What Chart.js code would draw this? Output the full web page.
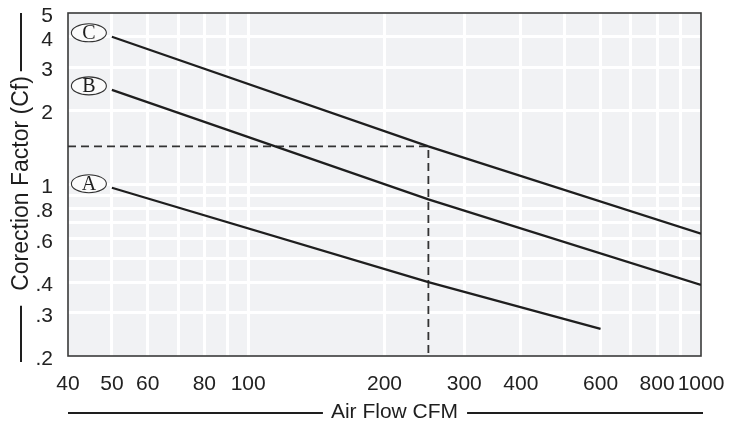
<!DOCTYPE html>
<html>
<head>
<meta charset="utf-8">
<script src="https://cdn.jsdelivr.net/npm/chart.js@4/dist/chart.umd.min.js"></script>
<style>
  html, body { margin: 0; padding: 0; background: #ffffff; }
  #wrap { width: 731px; height: 425px; position: relative; }
</style>
</head>
<body>
<div id="wrap"><canvas id="c"></canvas></div>
<script>
// ---- data ----
const flowA = [50, 250, 600];
const cfA   = [0.97, 0.40, 0.258];
const flowB = [50, 250, 1000];
const cfB   = [2.43, 0.87, 0.39];
const flowC = [50, 250, 1000];
const cfC   = [4.0, 1.43, 0.63];
const guideFlow = [40, 250, 250];
const guideCf   = [1.43, 1.43, 0.2];
const curveNames = ['A', 'B', 'C'];

const xGridValues = [40, 50, 60, 70, 80, 90, 100, 200, 300, 400, 500, 600, 700, 800, 900, 1000];
const xLabelValues = [40, 50, 60, 80, 100, 200, 300, 400, 600, 800, 1000];
const xLabelTexts  = ['40', '50', '60', '80', '100', '200', '300', '400', '600', '800', '1000'];
const yGridValues = [0.2, 0.3, 0.4, 0.5, 0.6, 0.7, 0.8, 0.9, 1, 2, 3, 4, 5];
const yLabelValues = [0.2, 0.3, 0.4, 0.6, 0.8, 1, 2, 3, 4, 5];
const yLabelTexts  = ['.2', '.3', '.4', '.6', '.8', '1', '2', '3', '4', '5'];
const xTitle = 'Air Flow CFM';
const yTitle = 'Corection Factor (Cf)';

const pts = (xs, ys) => xs.map((x, i) => ({ x: x, y: ys[i] }));

Chart.defaults.font.family = "'Liberation Sans', Arial, Helvetica, sans-serif";
Chart.defaults.color = '#222';

const X_MIN = 40, X_MAX = 1000, Y_MIN = 0.2, Y_MAX = 5;
const INK = '#1e1e1e';

const decor = {
  id: 'decor',
  beforeDraw(chart) {
    const { ctx, chartArea: a } = chart;
    ctx.save();
    ctx.fillStyle = '#f1f2f4';
    ctx.fillRect(a.left, a.top, a.right - a.left, a.bottom - a.top);
    ctx.restore();
  },
  beforeDatasetsDraw(chart) {
    const { ctx, chartArea: a } = chart;
    ctx.save();
    ctx.strokeStyle = '#3a3a3a';
    ctx.lineWidth = 1.6;
    ctx.strokeRect(a.left, a.top, a.right - a.left, a.bottom - a.top);
    ctx.restore();
  },
  afterDraw(chart) {
    const { ctx, chartArea: a } = chart;
    ctx.save();
    // circled curve labels, placed just left of each curve's first point
    [0, 1, 2].forEach(i => {
      const p0 = chart.getDatasetMeta(i).data[0];
      const cx = p0.x - 23, cy = p0.y - 4;
      ctx.beginPath();
      ctx.ellipse(cx, cy, 17.5, 9, 0, 0, Math.PI * 2);
      ctx.fillStyle = '#fbfbfb';
      ctx.fill();
      ctx.lineWidth = 1.1;
      ctx.strokeStyle = '#333';
      ctx.stroke();
      ctx.fillStyle = INK;
      ctx.font = "20px 'Liberation Serif', 'Times New Roman', serif";
      ctx.textAlign = 'center';
      ctx.textBaseline = 'middle';
      ctx.fillText(curveNames[i], cx, cy + 1);
    });

    // x axis title with rules
    ctx.font = "21px 'Liberation Sans', Arial, sans-serif";
    ctx.fillStyle = INK;
    ctx.textAlign = 'center';
    ctx.textBaseline = 'alphabetic';
    const xtx = (a.left + a.right) / 2 + 10;
    const xty = 418;
    ctx.fillText(xTitle, xtx, xty);
    const xw = ctx.measureText(xTitle).width;
    ctx.strokeStyle = INK;
    ctx.lineWidth = 2;
    ctx.beginPath();
    ctx.moveTo(a.left, xty - 5);
    ctx.lineTo(xtx - xw / 2 - 8, xty - 5);
    ctx.moveTo(xtx + xw / 2 + 9, xty - 5);
    ctx.lineTo(a.right + 2, xty - 5);
    ctx.stroke();

    // y axis title with rules
    ctx.save();
    ctx.font = "23px 'Liberation Sans', Arial, sans-serif";
    const ytx = 28, yty = (a.top + a.bottom) / 2 - 1;
    ctx.translate(ytx, yty);
    ctx.rotate(-Math.PI / 2);
    ctx.textAlign = 'center';
    ctx.textBaseline = 'alphabetic';
    ctx.fillText(yTitle, 0, 0);
    const yw = ctx.measureText(yTitle).width;
    ctx.restore();
    ctx.beginPath();
    ctx.moveTo(21, a.top);
    ctx.lineTo(21, yty - yw / 2 - 5);
    ctx.moveTo(21, yty + yw / 2 + 15);
    ctx.lineTo(21, a.bottom + 6);
    ctx.stroke();
    ctx.restore();
  }
};

const gridColor = (lo, hi) => (c) => {
  const v = c.tick ? c.tick.value : null;
  return (v === lo || v === hi) ? 'rgba(0,0,0,0)' : '#ffffff';
};
const zeroPad = s => { s.paddingTop = 0; s.paddingBottom = 0; s.paddingLeft = 0; s.paddingRight = 0; };

new Chart(document.getElementById('c'), {
  type: 'scatter',
  data: {
    datasets: [
      { label: 'A', data: pts(flowA, cfA), showLine: true, borderColor: INK, borderWidth: 2.2, pointRadius: 0 },
      { label: 'B', data: pts(flowB, cfB), showLine: true, borderColor: INK, borderWidth: 2.2, pointRadius: 0 },
      { label: 'C', data: pts(flowC, cfC), showLine: true, borderColor: INK, borderWidth: 2.2, pointRadius: 0 },
      { label: 'guide', data: pts(guideFlow, guideCf), showLine: true, borderColor: '#333', borderWidth: 1.8,
        borderDash: [8, 5], pointRadius: 0 }
    ]
  },
  options: {
    responsive: true,
    maintainAspectRatio: false,
    animation: false,
    layout: { padding: { top: 13, right: 30, left: 0, bottom: 0 } },
    plugins: { legend: { display: false }, tooltip: { enabled: false } },
    scales: {
      x: {
        type: 'logarithmic',
        min: X_MIN, max: X_MAX,
        afterBuildTicks: s => { s.ticks = xGridValues.map(v => ({ value: v })); },
        afterFit: s => { s.height = 69; zeroPad(s); },
        ticks: {
          autoSkip: false, maxRotation: 0, minRotation: 0,
          padding: 16,
          font: { size: 21 },
          color: '#222',
          callback: v => { const i = xLabelValues.indexOf(v); return i >= 0 ? xLabelTexts[i] : ''; }
        },
        grid: { color: gridColor(X_MIN, X_MAX), lineWidth: 3, drawTicks: false },
        border: { display: false }
      },
      y: {
        type: 'logarithmic',
        min: Y_MIN, max: Y_MAX,
        afterBuildTicks: s => { s.ticks = yGridValues.map(v => ({ value: v })); },
        afterFit: s => { s.width = 68; zeroPad(s); },
        ticks: {
          autoSkip: false,
          padding: 15,
          labelOffset: 3,
          font: { size: 21 },
          color: '#222',
          callback: v => { const i = yLabelValues.indexOf(v); return i >= 0 ? yLabelTexts[i] : ''; }
        },
        grid: { color: gridColor(Y_MIN, Y_MAX), lineWidth: 3, drawTicks: false },
        border: { display: false }
      }
    }
  },
  plugins: [decor]
});
</script>
</body>
</html>
